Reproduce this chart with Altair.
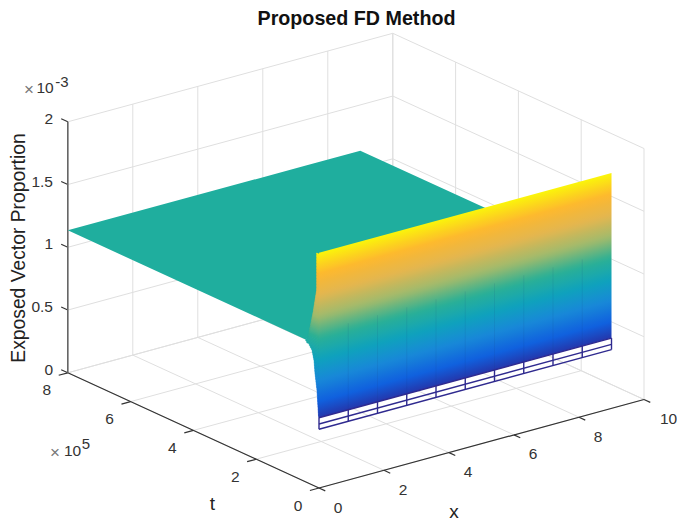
import numpy as np
import pandas as pd
import altair as alt

# ---- values ----
X_TICKS = [0, 2, 4, 6, 8, 10]
T_TICKS = [0, 2, 4, 6, 8]            # in units of 1e5
Z_TICKS = [0, 0.5, 1, 1.5, 2]        # in units of 1e-3
Z_TICK_LABELS = ["0", "0.5", "1", "1.5", "2"]

PLATEAU_Z = 1.135
SURFACE_X_MAX = 9.0
PLATEAU_FRONT_T = 0.446
COLOR_Z_MIN = 0.52
WALL_Z_TOP = 1.875
WALL_Z_MIN = 0.468
MESH_Z = [0.468, 0.51, 0.56]
MESH_X = [0, 0.9, 1.8, 2.7, 3.6, 4.5, 5.4, 6.3, 7.2, 8.1, 9.0]
# left edge of the surface, close to t = 0
EDGE_Z = [0.468, 0.478, 0.56, 0.641, 0.773, 0.9, 1.0, 1.074, 1.111, 1.128, 1.14, 1.163, 1.373, 1.57, 1.864, 1.875]
EDGE_T = [0.0, 0.0, 0.012, 0.032, 0.064, 0.127, 0.159, 0.223, 0.318, 0.446, 0.40, 0.35, 0.19, 0.073, 0.073, 0.03]

PARULA = ["#2B2A9C", "#1060DE", "#1888D8", "#0FA2BC", "#2BB095",
          "#A0BA6C", "#E2B650", "#FDB82E", "#FBF50A"]
PLATEAU_COLOR = "#1FAE9E"
GRID = "#dfdfdf"
AXIS = "#333333"
TXT = "#333333"
FONT = "Liberation Sans"

# view of the box (orthographic, page pixels)
ORIGIN = (319.0, 488.0)
UX = (32.5, -8.85)      # per x unit
UT = (-31.4, -14.4)     # per 1e5 of t
UZ = -125.5             # per 1e-3 of z


def proj(x, t, z):
    return ORIGIN[0] + x * UX[0] + t * UT[0], ORIGIN[1] + x * UX[1] + t * UT[1] + z * UZ


def seg(a, b):
    p, q = proj(*a), proj(*b)
    return dict(px=p[0], py=p[1], qx=q[0], qy=q[1])


def parula(v):
    pos = np.linspace(0, 1, len(PARULA))
    rgb = np.array([[int(c[i:i + 2], 16) for i in (1, 3, 5)] for c in PARULA], float)
    return "#%02x%02x%02x" % tuple(int(round(np.interp(v, pos, rgb[:, k]))) for k in range(3))


def z_color(z):
    return parula((z - COLOR_Z_MIN) / (WALL_Z_TOP - COLOR_Z_MIN))


xs = alt.X("px:Q", scale=alt.Scale(domain=[8, 677], nice=False, zero=False), axis=None)
ys = alt.Y("py:Q", scale=alt.Scale(domain=[521, 8], nice=False, zero=False), axis=None)


def rules(rows, **mk):
    return alt.Chart(pd.DataFrame(rows)).mark_rule(**mk).encode(
        x=xs, y=ys, x2=alt.X2("qx:Q"), y2=alt.Y2("qy:Q"))


def label(rows, **mk):
    return alt.Chart(pd.DataFrame(rows)).mark_text(font=FONT, **mk).encode(
        x=xs, y=ys, text="s:N")


# grid
grid = []
for x in X_TICKS:
    grid.append(seg((x, 0, 0), (x, 8, 0)))
    grid.append(seg((x, 8, 0), (x, 8, 2)))
for t in T_TICKS:
    grid.append(seg((0, t, 0), (10, t, 0)))
    grid.append(seg((10, t, 0), (10, t, 2)))
for z in Z_TICKS:
    grid.append(seg((0, 8, z), (10, 8, z)))
    grid.append(seg((10, 8, z), (10, 0, z)))
grid_layer = rules(grid, color=GRID, strokeWidth=1)

# axes and ticks
axes = [seg((0, 0, 0), (10, 0, 0)), seg((0, 0, 0), (0, 8, 0))]
axes += [seg((x, 0, 0), (x, -0.2, 0)) for x in X_TICKS]
axes += [seg((0, t, 0), (-0.28, t, 0)) for t in T_TICKS]
axes += [seg((0, 8, z), (0, 8.21, z)) for z in Z_TICKS]
axes_layer = rules(axes, color=AXIS, strokeWidth=1.2)
z_axis_layer = rules([seg((0, 8, 0), (0, 8, 2))], color="#666666", strokeWidth=1.6)

# plateau as one filled shape
A = proj(0, 8, PLATEAU_Z)
B = proj(SURFACE_X_MAX, 8, PLATEAU_Z)
C = proj(SURFACE_X_MAX, PLATEAU_FRONT_T, PLATEAU_Z)
D = proj(0, PLATEAU_FRONT_T, PLATEAU_Z)
px = sorted({A[0], B[0], C[0], D[0]})
plateau = pd.DataFrame({
    "px": px,
    "py": np.interp(px, [A[0], B[0], C[0]], [A[1], B[1], C[1]]),
    "qy": np.interp(px, [A[0], D[0], C[0]], [A[1], D[1], C[1]]),
})
plateau_layer = alt.Chart(plateau).mark_area(color=PLATEAU_COLOR, opacity=1).encode(
    x=xs, y=ys, y2=alt.Y2("qy:Q"))

# left fringe of the steep part: thin bands coloured by height
STEP = 0.012
levels = np.arange(MESH_Z[-1], 1.864, STEP)
fringe_rows = []
for i, z0 in enumerate(levels):
    z1 = min(z0 + 1.5 * STEP, 1.864)
    zm = 0.5 * (z0 + z1)
    t_left = float(np.interp(zm, EDGE_Z, EDGE_T))
    if t_left > 0:
        for t in (t_left, 0.0):
            p = proj(0, t, z0)
            q = proj(0, t, z1)
            fringe_rows.append(dict(px=p[0], py=p[1], qy=q[1], band=i, c=z_color(zm)))
fringe_layer = alt.Chart(pd.DataFrame(fringe_rows)).mark_area(strokeWidth=0.4, opacity=1).encode(
    x=xs, y=ys, y2=alt.Y2("qy:Q"), detail="band:N",
    fill=alt.Fill("c:N", scale=None), stroke=alt.Stroke("c:N", scale=None))

# steep wall at t = 0: one shape, gradient running across the height lines
Z_LOW = MESH_Z[-1]
p_lb = proj(0, 0, Z_LOW)
p_lt = proj(0, 0, WALL_Z_TOP)
p_rb = proj(SURFACE_X_MAX, 0, Z_LOW)
p_rt = proj(SURFACE_X_MAX, 0, WALL_Z_TOP)
H = p_lb[1] - p_rt[1]
v_lt = (p_lt[1] - p_rt[1]) / H
slope = (p_lt[1] - p_rt[1]) / H                 # rise of a height line in box units
nx, ny = slope, 1.0
s = (1.0 - v_lt) / (nx ** 2 + ny ** 2)
g1 = (0.0, v_lt)
g2 = (s * nx, v_lt + s * ny)
offsets = np.linspace(0, 1, 41)
stops = [alt.GradientStop(color=z_color(WALL_Z_TOP - o * (WALL_Z_TOP - Z_LOW)), offset=float(o))
         for o in offsets]
wall = pd.DataFrame({"px": [p_lb[0], p_rb[0]], "py": [p_lt[1], p_rt[1]], "qy": [p_lb[1], p_rb[1]]})
wall_layer = alt.Chart(wall).mark_area(
    opacity=1,
    color=alt.Gradient(gradient="linear", stops=stops, x1=g1[0], y1=g1[1], x2=g2[0], y2=g2[1]),
).encode(x=xs, y=ys, y2=alt.Y2("qy:Q"))

# mesh lines
fade = rules([seg((x, 0, MESH_Z[-1]), (x, 0, 1.25)) for x in MESH_X[1:-1]],
             color="#123a7a", strokeWidth=1, opacity=0.1)
mesh = [seg((0, 0, z), (SURFACE_X_MAX, 0, z)) for z in MESH_Z]
mesh += [seg((x, 0, WALL_Z_MIN), (x, 0, MESH_Z[-1])) for x in MESH_X]
mesh_layer = rules(mesh, color="#2f2a8f", strokeWidth=1.4)

# texts
x_lab = []
for x in X_TICKS:
    p = proj(x, 0, 0)
    x_lab.append(dict(px=p[0] + (24.5 if x == 10 else 19), py=p[1] + 19.5, s=str(x)))
t_lab = []
for t in T_TICKS:
    p = proj(0, t, 0)
    t_lab.append(dict(px=p[0] - 21, py=p[1] + 17.5, s=str(t)))
z_lab = []
for z, s_ in zip(Z_TICKS, Z_TICK_LABELS):
    p = proj(0, 8, z)
    z_lab.append(dict(px=53, py=p[1] - 3, s=s_))

chart = alt.layer(
    grid_layer,
    axes_layer,
    z_axis_layer,
    plateau_layer,
    fringe_layer,
    wall_layer,
    fade,
    mesh_layer,
    label(x_lab, fontSize=15.5, color=TXT),
    label(t_lab, fontSize=15.5, color=TXT),
    label(z_lab, fontSize=15.5, color=TXT, align="right"),
    label([dict(px=356.5, py=19, s="Proposed FD Method")], fontSize=19.7, fontWeight="bold", color="#111111"),
    label([dict(px=19, py=248, s="Exposed Vector Proportion")], fontSize=19.3, angle=270, color="#222222"),
    label([dict(px=454, py=512, s="x")], fontSize=19, color="#222222"),
    label([dict(px=212.5, py=504, s="t")], fontSize=19, color="#222222"),
    label([dict(px=29, py=90, s="×")], fontSize=17, color="#777777"),
    label([dict(px=45, py=88, s="10")], fontSize=15.5, color=TXT),
    label([dict(px=62, py=82, s="-3")], fontSize=15, color=TXT),
    label([dict(px=55, py=453, s="×")], fontSize=17, color="#777777"),
    label([dict(px=72.5, py=451, s="10")], fontSize=15.5, color=TXT),
    label([dict(px=86, py=444, s="5")], fontSize=15, color=TXT),
).properties(
    width=669, height=513, padding=0,
    autosize=alt.AutoSizeParams(type="none"),
    background="white",
).configure_view(stroke=None)

chart.save("out.html", embed_options={"renderer": "svg", "actions": False})
